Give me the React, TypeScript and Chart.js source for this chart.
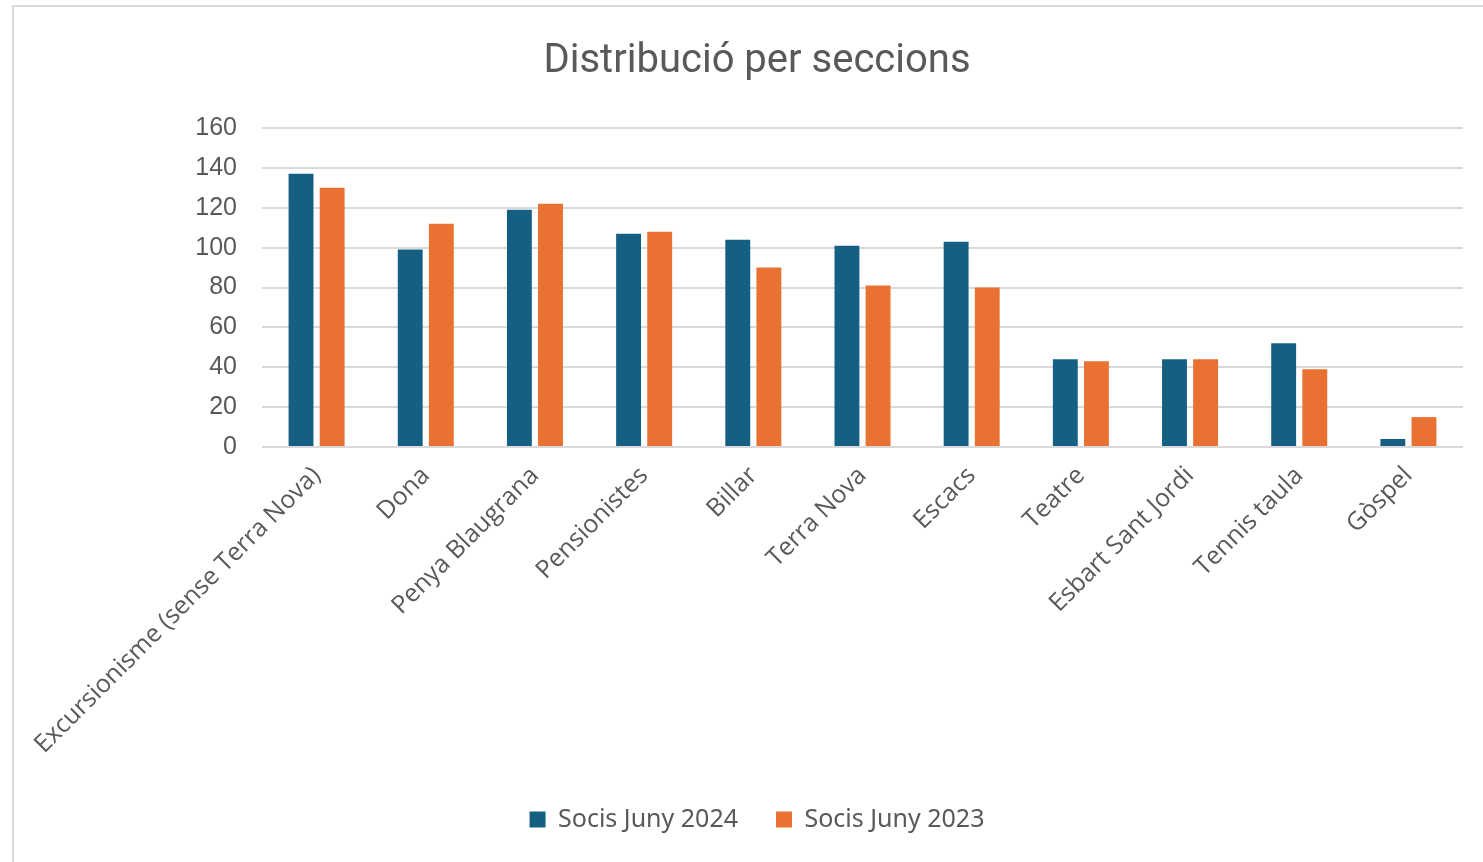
import { useEffect, useRef } from 'react';
import { Chart, registerables } from 'chart.js';

Chart.register(...registerables);

const sections = [
  'Excursionisme (sense Terra Nova)',
  'Dona',
  'Penya Blaugrana',
  'Pensionistes',
  'Billar',
  'Terra Nova',
  'Escacs',
  'Teatre',
  'Esbart Sant Jordi',
  'Tennis taula',
  'Gòspel',
];
const socis2024 = [137, 99, 119, 107, 104, 101, 103, 44, 44, 52, 4];
const socis2023 = [130, 112, 122, 108, 90, 81, 80, 43, 44, 39, 15];
const yTicks = [0, 20, 40, 60, 80, 100, 120, 140, 160];

const textColor = '#595959';
const gridColor = '#d9d9d9';

// the original chart runs past the right edge of the screenshot
const CANVAS_W = 1515;
const CANVAS_H = 862;

export default function App() {
  const chartRef = useRef<HTMLCanvasElement | null>(null);
  const chartInstance = useRef<Chart | null>(null);

  useEffect(() => {
    document.body.style.margin = '0';
    if (!chartRef.current) return;
    const ctx = chartRef.current.getContext('2d');
    if (!ctx) return;

    chartInstance.current = new Chart(ctx, {
      type: 'bar',
      data: {
        labels: sections,
        datasets: [
          {
            label: 'Socis Juny 2024',
            data: socis2024,
            backgroundColor: '#156082',
            categoryPercentage: 0.57,
            barPercentage: 0.8,
          },
          {
            label: 'Socis Juny 2023',
            data: socis2023,
            backgroundColor: '#e97132',
            categoryPercentage: 0.57,
            barPercentage: 0.8,
          },
        ],
      },
      options: {
        animation: false,
        responsive: false,
        maintainAspectRatio: false,
        layout: { padding: { left: 51, right: 52, top: 0, bottom: 20 } },
        plugins: {
          title: {
            display: true,
            text: 'Distribució per seccions',
            color: textColor,
            font: { family: 'Roboto', size: 40, weight: 'normal' },
            padding: { top: 38, bottom: 42 },
          },
          legend: {
            position: 'bottom',
            labels: {
              color: textColor,
              font: { family: 'Noto Sans', size: 25 },
              boxWidth: 16,
              boxHeight: 16,
              padding: 38,
            },
          },
          tooltip: { enabled: false },
        },
        scales: {
          x: {
            grid: { display: false },
            border: { display: false },
            ticks: {
              color: textColor,
              font: { family: 'Open Sans', size: 25 },
              maxRotation: 45,
              minRotation: 45,
              autoSkip: false,
              padding: 6,
            },
            afterFit: (scale: any) => {
              scale.height = 322;
            },
          },
          y: {
            min: 0,
            max: 160,
            afterBuildTicks: (scale: any) => {
              scale.ticks = yTicks.map(v => ({ value: v }));
            },
            grid: { color: gridColor, lineWidth: 2, drawTicks: false },
            border: { display: false },
            ticks: {
              color: textColor,
              font: { family: 'Liberation Sans', size: 25 },
              padding: 25,
            },
            afterFit: (scale: any) => {
              scale.width = 211;
            },
          },
        },
      },
    });

    return () => {
      if (chartInstance.current) {
        chartInstance.current.destroy();
        chartInstance.current = null;
      }
    };
  }, []);

  return (
    <div style={{ position: 'relative', width: 1483, height: 862, background: '#fff', overflow: 'hidden' }}>
      <div
        style={{
          position: 'absolute',
          left: 12,
          top: 5,
          width: 1540,
          height: 900,
          border: '2px solid #d9d9d9',
          boxSizing: 'border-box',
        }}
      />
      <canvas
        ref={chartRef}
        width={CANVAS_W}
        height={CANVAS_H}
        style={{ position: 'absolute', left: 0, top: 0 }}
      />
    </div>
  );
}
